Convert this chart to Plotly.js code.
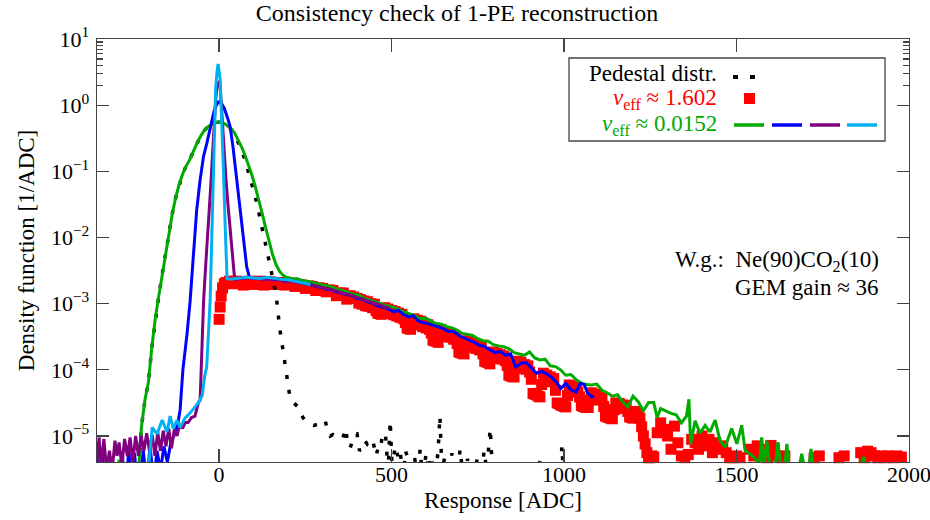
<!DOCTYPE html>
<html>
<head>
<meta charset="utf-8">
<script src="https://cdn.plot.ly/plotly-3.0.1.min.js"></script>
<style>html,body{margin:0;padding:0;background:#fff;}</style>
</head>
<body>
<div id="chart" style="width:930px;height:520px;"></div>
<script>
// ---------------- data ----------------
const xTickVals = [0, 500, 1000, 1500, 2000];
const xTickText = ['0', '500', '1000', '1500', '2000'];
const yTickVals = [1e-5, 1e-4, 1e-3, 1e-2, 1e-1, 1, 10];
const yTickText = ['10<sup>−5</sup>', '10<sup>−4</sup>', '10<sup>−3</sup>', '10<sup>−2</sup>', '10<sup>−1</sup>', '10<sup>0</sup>', '10<sup>1</sup>'];
const yMinorVals = [2, 3, 4, 5, 6, 7, 8, 9];

// Pedestal distribution (black dotted)
const pedX = [
 -354,-300,-240,-232,-225,-215,-205,-195,-185,-175,
 -165,-155,-145,-135,-125,-115,-105,-95,-85,-75,
 -65,-55,-45,-35,-25,-15,-5,5,15,25,
 35,45,55,65,75,85,95,105,115,125,
 135,145,155,165,175,185,195,205,215,229,
 243,255,264,275,285,293,300,307,315,322,
 330,340,350,359,366,373,380,388,395,400,
 407,415,422,429,437,446,455,462,467,475,
 482,490,496,502,510,518,525,533,540,548,
 556,565,575,583,590,600,608,616,625,635,
 640,646,655,665,675,685,699,708,720,735,
 750,760,768,776,786,794,805,815,830,850,
 860,880,900,910,930,940,960,985,994,1002];
const pedY = [
 1e-6,1e-6,1e-6,4e-6,1.4e-5,3.5e-5,6.5e-5,2.2e-4,6e-4,1.3e-3,
 2.8e-3,5.8e-3,1.2e-2,2.4e-2,4.2e-2,6.6e-2,9.3e-2,0.122,0.15,0.2,
 0.26,0.33,0.40,0.46,0.50,0.54,0.55,0.55,0.53,0.48,
 0.43,0.36,0.28,0.21,0.15,0.1,0.066,0.041,0.024,0.0135,
 0.0075,0.0042,0.0025,0.0014,4.5e-4,2e-4,9e-5,4e-5,3.2e-5,2.75e-5,
 1.9e-5,1.6e-5,1.5e-5,1.45e-5,1.5e-5,1.6e-5,1.7e-5,1.75e-5,1.2e-5,1.0e-5,
 1.05e-5,9.5e-6,9.5e-6,9.3e-6,1.3e-5,8e-6,6.6e-6,9e-6,1.05e-5,1.07e-5,
 6e-6,6.6e-6,8.5e-6,7.6e-6,9e-6,8.3e-6,5e-6,7e-6,6.6e-6,1.07e-5,
 1.1e-5,3e-6,1.7e-5,3e-6,7e-6,5e-6,6.2e-6,2e-6,6e-6,4.5e-6,
 2e-6,5e-6,3e-6,6.3e-6,2e-6,5.5e-6,3e-6,5e-6,2e-6,6e-6,
 2e-5,3e-6,5e-6,2e-6,5.5e-6,2e-6,6.3e-6,2e-6,4.5e-6,2e-6,
 5e-6,2e-6,6e-6,3e-6,1.3e-5,2e-6,4.5e-6,2e-6,1e-6,4.2e-6,
 1e-6,1e-6,4.5e-6,1e-6,4.2e-6,1e-6,1e-6,2e-6,7e-6,1e-6];

// nu_eff ~ 1.602 (red squares)
const redX = [
 0,3,6,10,15,20,30,40,50,60,
 70,80,90,100,110,120,130,140,150,160,
 170,180,190,200,210,220,230,240,250,260,
 270,280,290,300,310,320,330,340,350,360,
 370,380,390,
 400,405,410,415,420,425,430,435,440,445,
 450,455,460,465,470,475,480,485,490,495,
 500,505,510,515,520,525,530,535,540,545,
 550,555,560,565,570,575,580,585,590,595,
 600,605,610,615,620,625,630,635,640,645,
 650,655,660,665,670,675,680,685,690,695,
 700,705,710,715,720,725,730,735,740,745,
 750,755,760,765,770,775,780,785,790,795,
 800,805,810,815,820,825,830,835,840,845,
 850,855,860,865,870,875,880,885,890,895,
 900,905,910,915,920,925,930,935,940,945,
 950,955,960,965,970,975,980,985,990,995,
 1000,1005,1010,1015,1020,1025,1030,1035,1040,1045,
 1050,1055,1060,1065,1070,1075,1080,1085,1090,1095,
 1100,1105,1110,1115,1120,1125,1130,1135,1140,1145,
 1150,1155,1160,1165,1170,1175,1180,1185,1190,1195,
 1200,1205,1210,1215,1220,1225,1230,1235,1240,1245,
 1250,1255,1260,
 1270,1280,1290,1300,1310,1320,1330,1340,1350,1360,
 1370,1380,1390,1400,1410,1420,1430,1440,1450,1460,
 1470,1480,1490,1500,1510,1540,1550,1560,1570,1580,
 1590,1600,1610,1620,1630,1640,1725,1740,1797,1812,
 1860,1870,1880,1890,1900,1910,1920,1930,1940,1955,
 1965,1978];
const redY = [
 5.8e-4,8.9e-4,1.3e-3,1.74e-3,2.0e-3,2.09e-3,2.19e-3,2.0e-3,2.19e-3,2.04e-3,
 1.91e-3,2.14e-3,2.19e-3,1.95e-3,2.14e-3,2.19e-3,1.91e-3,2.14e-3,2.14e-3,1.95e-3,
 2.09e-3,2.09e-3,1.91e-3,2.04e-3,2.04e-3,1.82e-3,1.95e-3,1.91e-3,1.70e-3,1.86e-3,
 1.82e-3,1.58e-3,1.74e-3,1.70e-3,1.51e-3,1.62e-3,1.58e-3,1.32e-3,1.45e-3,1.45e-3,
 1.17e-3,1.32e-3,1.26e-3,
 1.20e-3,1.02e-3,1.15e-3,9.8e-4,1.10e-3,9.3e-4,1.07e-3,9.1e-4,1.0e-3,8.7e-4,
 9.8e-4,7.9e-4,7.2e-4,7.1e-4,6.9e-4,7.4e-4,8.7e-4,7.4e-4,8.3e-4,7.1e-4,
 7.9e-4,6.8e-4,7.6e-4,6.5e-4,7.2e-4,6.2e-4,6.9e-4,5.9e-4,5.2e-4,4.3e-4,
 4.2e-4,4.1e-4,4.8e-4,5.9e-4,5.0e-4,5.6e-4,4.8e-4,5.4e-4,4.5e-4,5.0e-4,
 4.3e-4,4.8e-4,4.1e-4,3.6e-4,2.8e-4,2.75e-4,2.7e-4,2.6e-4,3.2e-4,4.0e-4,
 3.4e-4,3.8e-4,3.2e-4,3.6e-4,3.1e-4,3.4e-4,2.9e-4,3.2e-4,2.5e-4,1.86e-4,
 1.82e-4,1.78e-4,1.74e-4,2.2e-4,2.75e-4,2.3e-4,2.6e-4,2.2e-4,2.45e-4,2.1e-4,
 2.3e-4,2.0e-4,2.2e-4,1.74e-4,1.35e-4,1.32e-4,1.29e-4,1.23e-4,1.51e-4,1.86e-4,
 1.58e-4,1.78e-4,1.51e-4,1.70e-4,1.45e-4,1.62e-4,1.38e-4,1.17e-4,8.3e-5,8.1e-5,
 7.9e-5,7.8e-5,1.05e-4,1.35e-4,1.15e-4,1.29e-4,1.10e-4,1.20e-4,1.02e-4,1.15e-4,
 9.3e-5,7.2e-5,4.4e-5,4.3e-5,4.2e-5,4.0e-5,3.9e-5,6.0e-5,8.9e-5,7.4e-5,
 8.3e-5,7.1e-5,7.8e-5,6.6e-5,7.4e-5,4.9e-5,3.16e-5,3.1e-5,2.95e-5,2.9e-5,
 2.8e-5,2.75e-5,4.1e-5,5.9e-5,5.0e-5,5.6e-5,4.8e-5,5.4e-5,4.6e-5,3.9e-5,
 2.9e-5,2.8e-5,2.75e-5,2.7e-5,2.7e-5,3.5e-5,4.5e-5,3.8e-5,4.3e-5,3.6e-5,
 4.1e-5,3.5e-5,3.7e-5,2.8e-5,2.0e-5,1.95e-5,1.9e-5,1.86e-5,1.82e-5,2.5e-5,
 3.16e-5,2.8e-5,3.1e-5,2.6e-5,2.95e-5,2.6e-5,2.9e-5,2.35e-5,1.95e-5,1.9e-5,
 1.86e-5,2.2e-5,2.35e-5,2.0e-5,1.86e-5,1.38e-5,1.0e-5,7.6e-6,5.6e-6,4.7e-6,
 4.7e-6,5.0e-6,4.8e-6,
 1.12e-5,1.58e-5,1.26e-5,1.0e-5,6.3e-6,1.41e-5,7.9e-6,5.0e-6,4.7e-6,5.25e-6,
 8.9e-6,7.9e-6,6.3e-6,1.0e-5,7.1e-6,8.9e-6,5.6e-6,7.9e-6,6.3e-6,7.1e-6,
 5.6e-6,4.7e-6,4.7e-6,5.0e-6,4.7e-6,6.3e-6,5.0e-6,7.1e-6,5.0e-6,6.3e-6,
 4.7e-6,7.2e-6,6.3e-6,5.0e-6,4.7e-6,5.0e-6,4.7e-6,5.0e-6,4.7e-6,5.0e-6,
 5.6e-6,4.7e-6,5.9e-6,5.6e-6,5.0e-6,4.7e-6,5.0e-6,4.7e-6,5.0e-6,4.7e-6,
 5.0e-6,4.8e-6];

// nu_eff ~ 0.0152, first curve (green)
const greenX = [
 -354,-320,-310,-300,-290,-280,-240,-232,-225,-215,
 -205,-195,-185,-175,-165,-155,-145,-135,-125,-115,
 -105,-95,-85,-75,-65,-55,-45,-35,-25,-15,
 -5,5,15,25,35,45,55,65,75,85,
 95,105,115,125,135,145,155,165,175,185,
 195,205,215,225,240,255,270,285,300,315,
 330,345,360,375,390,405,420,435,450,465,
 480,495,510,525,540,555,570,585,600,615,
 630,645,660,675,690,705,720,735,750,765,
 780,795,810,825,840,855,870,885,900,915,
 930,945,960,975,990,1005,1020,1035,1050,1065,
 1080,1095,1110,1125,1140,1155,1170,1185,1200,1215,
 1230,1245,1260,1270,1280,1295,1310,1325,1340,1355,
 1362,1367,1380,1394,1409,1423,1438,1452,1467,1486,
 1501,1515,1525,1544,1559,1566,1573,1580,1588,1596,
 1612,1620,1628,1640,1646,1652,1682,1689,1696,1710,
 1716,1722,1860,1868,1875,2000];
const greenY = [
 1e-6,1e-6,4.6e-6,1e-6,4.4e-6,1e-6,1e-6,4e-6,1.4e-5,3.5e-5,
 6.5e-5,2.2e-4,6e-4,1.3e-3,2.8e-3,5.8e-3,1.2e-2,2.4e-2,4.2e-2,6.6e-2,
 9.3e-2,0.122,0.15,0.2,0.26,0.33,0.40,0.46,0.50,0.54,
 0.55,0.55,0.53,0.49,0.44,0.38,0.30,0.235,0.175,0.125,
 0.088,0.058,0.038,0.023,0.014,0.0085,0.0055,0.0039,0.0031,0.0027,
 0.0025,2.45e-3,2.34e-3,2.4e-3,2.24e-3,2.19e-3,2.09e-3,2.0e-3,1.91e-3,1.82e-3,
 1.78e-3,1.62e-3,1.58e-3,1.48e-3,1.38e-3,1.35e-3,1.2e-3,1.15e-3,1.07e-3,1.02e-3,
 9.5e-4,9.1e-4,8.7e-4,7.9e-4,7.4e-4,7.1e-4,6.5e-4,5.9e-4,6.0e-4,5.4e-4,
 5.0e-4,4.9e-4,4.5e-4,4.3e-4,4.0e-4,3.55e-4,3.4e-4,3.3e-4,2.95e-4,2.75e-4,
 2.7e-4,2.4e-4,2.3e-4,2.24e-4,2.1e-4,1.82e-4,1.74e-4,1.66e-4,1.86e-4,1.51e-4,
 1.41e-4,1.45e-4,1.15e-4,1.12e-4,1.0e-4,8.3e-5,8.5e-5,7.1e-5,6.3e-5,6.0e-5,
 5.9e-5,6.1e-5,4.9e-5,4.5e-5,4.0e-5,4.2e-5,3.3e-5,2.75e-5,4.0e-5,3.3e-5,
 2.4e-5,3.2e-5,3.2e-5,1.9e-5,2.6e-5,2.4e-5,2.2e-5,2.1e-5,1.58e-5,2.0e-5,
 3.6e-5,7.5e-6,1.7e-5,1.1e-5,1.45e-5,1.15e-5,1.74e-5,8.5e-6,6.8e-6,1.3e-5,
 7.6e-6,1.45e-5,6e-6,5.1e-6,4.3e-6,3.5e-6,9.5e-6,3.5e-6,8.5e-6,3.5e-6,
 3.5e-6,8.1e-6,3.5e-6,3.5e-6,7.6e-6,3.5e-6,3.5e-6,5.4e-6,3.5e-6,3.5e-6,
 6.4e-6,3.5e-6,3.5e-6,4.8e-6,3.5e-6,3.5e-6];

// nu_eff ~ 0.0152, second curve (blue)
const blueX = [
 -354,-348,-338,-330,-300,-280,-272,-262,-255,-245,
 -235,-220,-210,-200,-190,-180,-170,-160,-150,-140,
 -128,-120,-113,-105,-93,-84,-75,-65,-55,-45,
 -36,-25,-15,-8,-2,5,15,25,32,40,
 48,56,64,72,80,88,100,115,130,145,
 160,175,190,205,220,235,250,265,280,295,
 310,325,340,355,370,385,400,415,430,445,
 460,475,490,505,520,535,550,563,575,590,
 605,620,635,650,665,680,695,710,725,740,
 755,770,785,800,815,830,845,860,875,890,
 905,920,935,950,965,980,990,1005,1020,1035,
 1047,1058,1068,1080,1087];
const blueY = [
 8e-6,2e-6,6e-6,1e-6,1e-6,5e-6,1e-6,6.5e-6,2e-6,5.5e-6,
 1e-6,6e-6,2e-6,7e-6,2e-6,6e-6,3e-6,7e-6,4e-6,8e-6,
 1.1e-5,1.5e-5,2.5e-5,1e-4,3.5e-4,1.1e-3,5e-3,2.6e-2,0.075,0.17,
 0.26,0.5,0.8,1.0,1.12,1.1,0.9,0.63,0.47,0.24,
 0.107,0.047,0.02,0.0083,0.0036,0.0025,2.4e-3,2.45e-3,2.34e-3,2.4e-3,
 2.29e-3,2.34e-3,2.19e-3,2.24e-3,2.14e-3,2.09e-3,2.0e-3,1.95e-3,1.82e-3,1.78e-3,
 1.66e-3,1.62e-3,1.51e-3,1.45e-3,1.38e-3,1.32e-3,1.2e-3,1.17e-3,1.07e-3,1.02e-3,
 9.1e-4,8.9e-4,8.3e-4,7.6e-4,7.9e-4,6.8e-4,6.3e-4,6.6e-4,5.6e-4,5.2e-4,
 5.0e-4,4.7e-4,4.5e-4,4.2e-4,3.8e-4,3.8e-4,3.3e-4,3.0e-4,2.8e-4,2.6e-4,
 2.35e-4,2.24e-4,2.0e-4,1.82e-4,1.9e-4,1.66e-4,1.74e-4,1.1e-4,1.26e-4,1.29e-4,
 1.07e-4,8.9e-5,9.5e-5,8.7e-5,7.6e-5,6.3e-5,5.2e-5,6.2e-5,5.0e-5,4.6e-5,
 6.2e-5,6.0e-5,4.5e-5,3.9e-5,4.0e-5];

// nu_eff ~ 0.0152, third curve (purple)
const purpleX = [
 -354,-348,-342,-334,-326,-318,-310,-302,-296,-290,
 -282,-274,-266,-258,-250,-242,-234,-226,-218,-210,
 -202,-194,-186,-178,-170,-162,-154,-146,-138,-130,
 -122,-114,-106,-98,-90,-80,-70,-60,-55,-50,
 -45,-38,-31,-24,-17,-10,-5,0,2,7,
 13,20,26,32,38,44,50,60,80,100,
 120,140,160,180,200,220,240,260,280,300,
 320,340,360,380,400,420,440,460,480,495];
const purpleY = [
 4e-6,9.5e-6,3.5e-6,9e-6,3e-6,6e-6,3e-6,8.5e-6,5e-6,8e-6,
 3.5e-6,9e-6,5e-6,9.5e-6,4e-6,1e-5,5e-6,1e-5,6e-6,1.1e-5,
 6e-6,1.05e-5,5e-6,1.15e-5,6e-6,1.2e-5,7e-6,1.3e-5,6.5e-6,1.25e-5,
 1.0e-5,1.5e-5,1.3e-5,1.6e-5,1.6e-5,1.9e-5,2.0e-5,3.2e-5,3.5e-5,2.5e-4,
 1.1e-3,4.5e-3,0.0145,0.063,0.28,1.2,2.1,2.3,2.3,0.9,
 0.26,0.075,0.03,0.0145,5.5e-3,2.7e-3,2.3e-3,2.4e-3,2.45e-3,2.4e-3,
 2.4e-3,2.34e-3,2.34e-3,2.29e-3,2.19e-3,2.14e-3,2.04e-3,1.95e-3,1.86e-3,1.74e-3,
 1.66e-3,1.55e-3,1.45e-3,1.35e-3,1.23e-3,1.15e-3,1.05e-3,9.8e-4,8.9e-4,8.5e-4];

// nu_eff ~ 0.0152, fourth curve (light blue)
const cyanX = [
 -205,-194,-180,-165,-151,-142,-133,-122,-113,-99,
 -85,-70,-60,-49,-42,-36,-30,-26,-20,-15,
 -10,-6,-3,3,8,13,18,23,30,45,
 60,80,100,120,140,160,180,200,220,240,
 255,265];
const cyanY = [
 3e-6,1.35e-5,1.07e-5,1.74e-5,1.15e-5,2.0e-5,1.3e-5,1.74e-5,1.35e-5,1.86e-5,
 2.2e-5,2.7e-5,3.2e-5,4.1e-5,8e-5,1.1e-4,4.5e-4,1.1e-3,0.018,0.18,
 1.8,3.2,4.2,2.5,0.55,0.09,0.013,2.4e-3,2.34e-3,2.4e-3,
 2.45e-3,2.51e-3,2.45e-3,2.4e-3,2.51e-3,2.4e-3,2.34e-3,2.29e-3,2.19e-3,2.09e-3,
 2.04e-3,1.95e-3];

// ---------------- styling / layout ----------------
const FONT = 'Liberation Serif';
const C_RED = '#ff0000', C_GREEN = '#00aa00', C_BLUE = '#0000ff', C_PURPLE = '#800080', C_CYAN = '#00b0f0';
const AX = '#444';
const ML = 97, MR = 21, MT = 39, MB = 58, W = 930, H = 520;
const PW = W - ML - MR, PH = H - MT - MB;
const PX = p => (p - ML) / PW;          // pixel -> paper x
const PY = p => (H - MB - p) / PH;      // pixel -> paper y

const lineTrace = (x, y, color) => ({
  type: 'scatter', mode: 'lines', x: x, y: y,
  line: {color: color, width: 3}, hoverinfo: 'skip', showlegend: false
});

const traces = [
  {type: 'scatter', mode: 'markers', x: redX, y: redY, cliponaxis: false,
   marker: {symbol: 'square', size: 11, color: C_RED, line: {width: 0}}, showlegend: false},
  {type: 'scatter', mode: 'lines', x: pedX, y: pedY,
   line: {color: 'black', width: 3.5, dash: '4px,11px'}, showlegend: false},
  lineTrace(greenX, greenY, C_GREEN),
  lineTrace(blueX, blueY, C_BLUE),
  lineTrace(purpleX, purpleY, C_PURPLE),
  lineTrace(cyanX, cyanY, C_CYAN)
];

const shapes = [
  {type: 'rect', xref: 'paper', yref: 'paper', x0: PX(569), x1: PX(885), y0: PY(141), y1: PY(58),
   line: {color: AX, width: 1.3}, fillcolor: 'white', layer: 'above'},
  {type: 'line', xref: 'paper', yref: 'paper', x0: PX(733), x1: PX(758), y0: PY(77), y1: PY(77),
   line: {color: 'black', width: 4, dash: '5px,12px'}, layer: 'above'},
  {type: 'rect', xref: 'paper', yref: 'paper', x0: PX(744), x1: PX(755), y0: PY(104), y1: PY(93),
   line: {width: 0}, fillcolor: C_RED, layer: 'above'},
  {type: 'line', xref: 'paper', yref: 'paper', x0: PX(734), x1: PX(764), y0: PY(125), y1: PY(125),
   line: {color: C_GREEN, width: 3.5}, layer: 'above'},
  {type: 'line', xref: 'paper', yref: 'paper', x0: PX(772), x1: PX(802), y0: PY(125), y1: PY(125),
   line: {color: C_BLUE, width: 3.5}, layer: 'above'},
  {type: 'line', xref: 'paper', yref: 'paper', x0: PX(810), x1: PX(840), y0: PY(125), y1: PY(125),
   line: {color: C_PURPLE, width: 3.5}, layer: 'above'},
  {type: 'line', xref: 'paper', yref: 'paper', x0: PX(847), x1: PX(877), y0: PY(125), y1: PY(125),
   line: {color: C_CYAN, width: 3.5}, layer: 'above'}
];

const ann = (text, xp, yp, color, size) => ({
  text: text, xref: 'paper', yref: 'paper', x: PX(xp), y: PY(yp),
  xanchor: 'right', yanchor: 'middle', showarrow: false,
  font: {family: FONT, size: size || 23, color: color || 'black'}
});

const annotations = [
  ann('Pedestal distr.', 719, 73),
  ann('<i>ν</i><sub>eff</sub> ≈ 1.602', 719, 99, C_RED),
  ann('<i>ν</i><sub>eff</sub> ≈ 0.0152', 719, 125, C_GREEN),
  ann('W.g.:  Ne(90)CO<sub>2</sub>(10)', 881, 261, 'black', 23),
  ann('GEM gain ≈ 36', 881, 287, 'black', 23)
];

const layout = {
  width: W, height: H,
  margin: {l: ML, r: MR, t: MT, b: MB, pad: 0},
  paper_bgcolor: 'white', plot_bgcolor: 'white',
  font: {family: FONT, size: 22, color: 'black'},
  showlegend: false,
  title: {text: 'Consistency check of 1-PE reconstruction', xref: 'container', yref: 'container',
          x: 457 / W, y: 1 - 13 / H, xanchor: 'center', yanchor: 'middle',
          font: {family: FONT, size: 24, color: 'black'}},
  xaxis: {
    range: [-354, 2000], tickmode: 'array', tickvals: xTickVals, ticktext: xTickText,
    ticks: 'inside', ticklen: 13, tickwidth: 1.3, tickcolor: AX,
    showline: true, linecolor: AX, linewidth: 1.3, mirror: 'ticks',
    showgrid: false, zeroline: false, ticklabelstandoff: -8, ticklabeloverflow: 'allow',
    tickfont: {family: FONT, size: 22, color: 'black'},
    title: {text: 'Response [ADC]', standoff: 6, font: {family: FONT, size: 23, color: 'black'}}
  },
  yaxis: {
    type: 'log', range: [-5.393, 1], tickmode: 'array', tickvals: yTickVals, ticktext: yTickText,
    ticks: 'inside', ticklen: 12, tickwidth: 1.3, tickcolor: AX,
    minor: {tickmode: 'array', tickvals: yMinorVals, ticks: 'inside', ticklen: 6, tickwidth: 1.3, tickcolor: AX},
    showline: true, linecolor: AX, linewidth: 1.3, mirror: 'ticks',
    showgrid: false, zeroline: false, ticklabelstandoff: 2,
    tickfont: {family: FONT, size: 22, color: 'black'},
    title: {text: 'Density function [1/ADC]', standoff: 10, font: {family: FONT, size: 23, color: 'black'}}
  },
  shapes: shapes,
  annotations: annotations
};

Plotly.newPlot('chart', traces, layout, {displayModeBar: false, staticPlot: true});
</script>
</body>
</html>
